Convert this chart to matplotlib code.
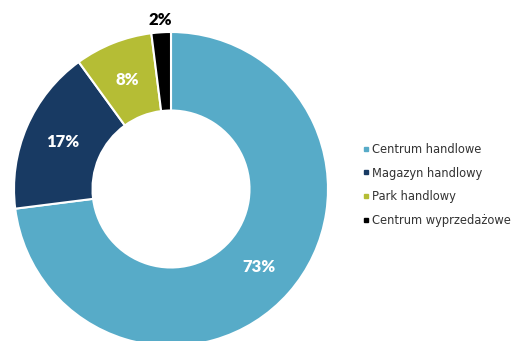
import matplotlib.pyplot as plt
from matplotlib.lines import Line2D
import numpy as np

labels = ["Centrum handlowe", "Magazyn handlowy", "Park handlowy", "Centrum wyprzedażowe"]
shares = [73, 17, 8, 2]
colors = ["#57abc8", "#183a63", "#b5bd35", "#000000"]

plt.rcParams['font.family'] = ['Lato', 'DejaVu Sans']

W, H = 517, 341
fig = plt.figure(figsize=(W / 100, H / 100), dpi=100)

# donut centre and radius in pixels
cx, cy, r = 171, 341 - 189, 157
ax = fig.add_axes([(cx - r) / W, (cy - r) / H, 2 * r / W, 2 * r / H])

wedges, texts, autotexts = ax.pie(
    shares, colors=colors, startangle=90, counterclock=False, radius=1,
    autopct=lambda p: f"{p:.0f}%", pctdistance=0.75,
    wedgeprops=dict(width=0.5, edgecolor='white', linewidth=1.5),
    textprops=dict(color='white', fontsize=12, fontweight='heavy'))
ax.set_xlim(-1, 1)
ax.set_ylim(-1, 1)
ax.set_aspect('equal')
ax.axis('off')

# small slice gets its label outside the ring
w = wedges[-1]
mid = np.deg2rad((w.theta1 + w.theta2) / 2)
autotexts[-1].set_position((1.08 * np.cos(mid), 1.08 * np.sin(mid)))
autotexts[-1].set_color('black')

handles = [Line2D([], [], marker='s', linestyle='', markersize=3.5,
                  markerfacecolor=c, markeredgecolor=c) for c in colors]
fig.legend(handles, labels, loc='center left', bbox_to_anchor=(350 / W, 1 - 185 / H),
           frameon=False, handletextpad=0.0, handlelength=1.0,
           labelspacing=0.95, labelcolor='#333333',
           prop=dict(family='DejaVu Sans', size=8.3))

fig.savefig('out.png', dpi=100)
